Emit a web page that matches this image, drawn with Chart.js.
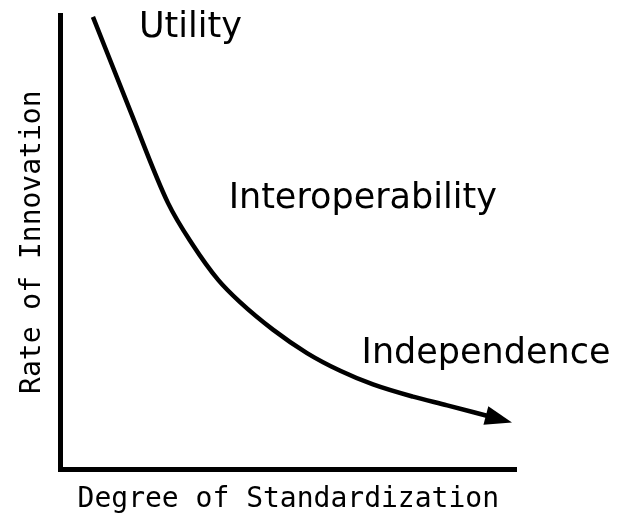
<!DOCTYPE html>
<html>
<head>
<meta charset="utf-8">
<script src="https://cdn.jsdelivr.net/npm/chart.js@4.4.1/dist/chart.umd.min.js"></script>
<style>
  html, body { margin: 0; padding: 0; background: #fff; }
  #wrap { width: 620px; height: 525px; }
</style>
</head>
<body>
<div id="wrap"><canvas id="curveChart"></canvas></div>
<script>
// curve (degree of standardization vs rate of innovation), 0-10 units
var curveX = [0.71, 1.53, 2.36, 2.89, 3.46, 3.94, 4.67, 5.41, 6.14, 6.86, 7.74, 8.49, 9.36];
var curveY = [9.96, 7.89, 5.86, 4.96, 4.17, 3.68, 3.07, 2.56, 2.17, 1.87, 1.60, 1.41, 1.18];

// stage labels placed in the same units
var stageLabels = ['Utility', 'Interoperability', 'Independence'];
var stageX = [1.72, 3.69, 6.61];
var stageY = [9.52, 5.75, 2.34];

var xTitle = 'Degree of Standardization';
var yTitle = 'Rate of Innovation';

var points = curveX.map(function (x, i) { return { x: x, y: curveY[i] }; });

// arrow head on the end of the curve + stage labels
var decorations = {
    id: 'decorations',
    afterDatasetsDraw: function (chart) {
        var ctx = chart.ctx;
        var xs = chart.scales.x, ys = chart.scales.y;
        var n = curveX.length;
        var x1 = xs.getPixelForValue(curveX[n - 2]), y1 = ys.getPixelForValue(curveY[n - 2]);
        var x2 = xs.getPixelForValue(curveX[n - 1]), y2 = ys.getPixelForValue(curveY[n - 1]);
        var a = Math.atan2(y2 - y1, x2 - x1);
        var len = 26, half = 9.5;
        ctx.save();
        ctx.translate(x2, y2);
        ctx.rotate(a);
        ctx.beginPath();
        ctx.moveTo(len, 0);
        ctx.lineTo(-1, -half);
        ctx.lineTo(-1, half);
        ctx.closePath();
        ctx.fillStyle = '#000';
        ctx.fill();
        ctx.restore();

        ctx.save();
        ctx.fillStyle = '#000';
        ctx.font = '35px "DejaVu Sans"';
        ctx.textAlign = 'left';
        ctx.textBaseline = 'alphabetic';
        stageLabels.forEach(function (t, i) {
            ctx.fillText(t, xs.getPixelForValue(stageX[i]), ys.getPixelForValue(stageY[i]));
        });
        ctx.restore();
    }
};

var ctx = document.getElementById('curveChart').getContext('2d');

var innovationChart = new Chart(ctx, {
    type: 'line',
    data: {
        datasets: [
            {
                label: 'Innovation',
                data: points,
                borderColor: '#000',
                borderWidth: 4.5,
                pointRadius: 0,
                fill: false,
                cubicInterpolationMode: 'monotone',
                clip: false
            }
        ]
    },
    options: {
        responsive: true,
        maintainAspectRatio: false,
        animation: false,
        layout: {
            padding: { left: 16, top: 15, right: 104, bottom: 8 }
        },
        plugins: {
            legend: { display: false },
            tooltip: { enabled: false }
        },
        scales: {
            x: {
                type: 'linear',
                min: 0,
                max: 10,
                ticks: { display: false },
                grid: { display: false, drawTicks: false },
                border: { display: true, color: '#000', width: 5 },
                title: {
                    display: true,
                    text: xTitle,
                    color: '#000',
                    font: { family: '"DejaVu Sans Mono"', size: 28 },
                    padding: { top: 14, bottom: 0 }
                }
            },
            y: {
                type: 'linear',
                min: 0,
                max: 10,
                ticks: { display: false },
                grid: { display: false, drawTicks: false },
                border: { display: true, color: '#000', width: 5 },
                title: {
                    display: true,
                    text: yTitle,
                    color: '#000',
                    font: { family: '"DejaVu Sans Mono"', size: 28 },
                    padding: { top: 0, bottom: 11 }
                }
            }
        }
    },
    plugins: [decorations]
});
</script>
</body>
</html>
